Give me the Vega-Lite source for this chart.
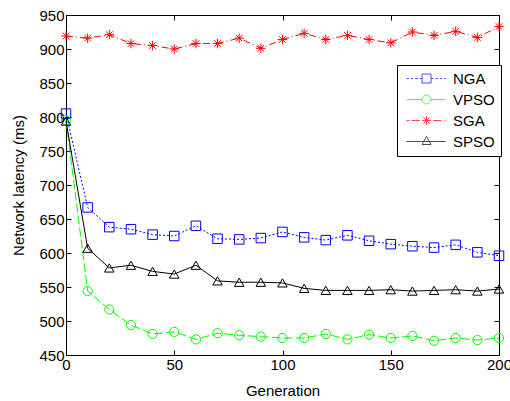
{
  "$schema": "https://vega.github.io/schema/vega-lite/v6.json",
  "width": 433,
  "height": 340,
  "autosize": "none",
  "padding": {"left": 66, "top": 15, "right": 11, "bottom": 46},
  "background": "white",
  "config": {
    "font": "Liberation Sans",
    "view": {"stroke": "black", "strokeWidth": 1},
    "axis": {
      "grid": false,
      "domainColor": "black",
      "tickColor": "black",
      "labelColor": "black",
      "titleColor": "black",
      "labelFont": "Liberation Sans",
      "titleFont": "Liberation Sans",
      "labelFontSize": 15,
      "titleFontSize": 15,
      "titleFontWeight": "normal",
      "tickSize": -5,
      "labelPadding": 7,
      "labelFlush": false,
      "labelOverlap": false
    },
    "legend": {
      "labelFont": "Liberation Sans",
      "labelFontSize": 15,
      "labelColor": "black"
    }
  },
  "data": {
    "values": [
      {"g": 0, "series": "NGA", "v": 805}, {"g": 10, "series": "NGA", "v": 667}, {"g": 20, "series": "NGA", "v": 638}, {"g": 30, "series": "NGA", "v": 635}, {"g": 40, "series": "NGA", "v": 627}, {"g": 50, "series": "NGA", "v": 625}, {"g": 60, "series": "NGA", "v": 640}, {"g": 70, "series": "NGA", "v": 621}, {"g": 80, "series": "NGA", "v": 620}, {"g": 90, "series": "NGA", "v": 622}, {"g": 100, "series": "NGA", "v": 631}, {"g": 110, "series": "NGA", "v": 623}, {"g": 120, "series": "NGA", "v": 619}, {"g": 130, "series": "NGA", "v": 626}, {"g": 140, "series": "NGA", "v": 618}, {"g": 150, "series": "NGA", "v": 613}, {"g": 160, "series": "NGA", "v": 610}, {"g": 170, "series": "NGA", "v": 608}, {"g": 180, "series": "NGA", "v": 612}, {"g": 190, "series": "NGA", "v": 601}, {"g": 200, "series": "NGA", "v": 596},
      {"g": 0, "series": "VPSO", "v": 795}, {"g": 10, "series": "VPSO", "v": 544}, {"g": 20, "series": "VPSO", "v": 517}, {"g": 30, "series": "VPSO", "v": 494}, {"g": 40, "series": "VPSO", "v": 481}, {"g": 50, "series": "VPSO", "v": 484}, {"g": 60, "series": "VPSO", "v": 473}, {"g": 70, "series": "VPSO", "v": 482}, {"g": 80, "series": "VPSO", "v": 479}, {"g": 90, "series": "VPSO", "v": 477}, {"g": 100, "series": "VPSO", "v": 475}, {"g": 110, "series": "VPSO", "v": 475}, {"g": 120, "series": "VPSO", "v": 481}, {"g": 130, "series": "VPSO", "v": 473}, {"g": 140, "series": "VPSO", "v": 480}, {"g": 150, "series": "VPSO", "v": 475}, {"g": 160, "series": "VPSO", "v": 478}, {"g": 170, "series": "VPSO", "v": 471}, {"g": 180, "series": "VPSO", "v": 475}, {"g": 190, "series": "VPSO", "v": 472}, {"g": 200, "series": "VPSO", "v": 475},
      {"g": 0, "series": "SGA", "v": 919}, {"g": 10, "series": "SGA", "v": 916}, {"g": 20, "series": "SGA", "v": 921}, {"g": 30, "series": "SGA", "v": 908}, {"g": 40, "series": "SGA", "v": 905}, {"g": 50, "series": "SGA", "v": 900}, {"g": 60, "series": "SGA", "v": 908}, {"g": 70, "series": "SGA", "v": 908}, {"g": 80, "series": "SGA", "v": 916}, {"g": 90, "series": "SGA", "v": 901}, {"g": 100, "series": "SGA", "v": 914}, {"g": 110, "series": "SGA", "v": 923}, {"g": 120, "series": "SGA", "v": 914}, {"g": 130, "series": "SGA", "v": 920}, {"g": 140, "series": "SGA", "v": 914}, {"g": 150, "series": "SGA", "v": 909}, {"g": 160, "series": "SGA", "v": 925}, {"g": 170, "series": "SGA", "v": 920}, {"g": 180, "series": "SGA", "v": 926}, {"g": 190, "series": "SGA", "v": 917}, {"g": 200, "series": "SGA", "v": 933},
      {"g": 0, "series": "SPSO", "v": 794}, {"g": 10, "series": "SPSO", "v": 607}, {"g": 20, "series": "SPSO", "v": 578}, {"g": 30, "series": "SPSO", "v": 582}, {"g": 40, "series": "SPSO", "v": 573}, {"g": 50, "series": "SPSO", "v": 569}, {"g": 60, "series": "SPSO", "v": 582}, {"g": 70, "series": "SPSO", "v": 559}, {"g": 80, "series": "SPSO", "v": 557}, {"g": 90, "series": "SPSO", "v": 557}, {"g": 100, "series": "SPSO", "v": 556}, {"g": 110, "series": "SPSO", "v": 548}, {"g": 120, "series": "SPSO", "v": 545}, {"g": 130, "series": "SPSO", "v": 545}, {"g": 140, "series": "SPSO", "v": 545}, {"g": 150, "series": "SPSO", "v": 546}, {"g": 160, "series": "SPSO", "v": 544}, {"g": 170, "series": "SPSO", "v": 545}, {"g": 180, "series": "SPSO", "v": 546}, {"g": 190, "series": "SPSO", "v": 544}, {"g": 200, "series": "SPSO", "v": 547}
    ]
  },
  "resolve": {"axis": {"x": "independent", "y": "independent"}},
  "layer": [
    {
      "transform": [{"filter": "datum.series === 'NGA'"}],
      "mark": {"type": "line", "color": "#0000ff", "strokeWidth": 1, "strokeDash": [2, 2],
        "point": {"shape": "square", "filled": false, "size": 90, "strokeWidth": 1, "color": "#0000ff"}},
      "encoding": {
        "x": {"field": "g", "type": "quantitative", "title": "Generation",
          "scale": {"domain": [0, 200], "nice": false, "zero": false},
          "axis": {"orient": "bottom", "values": [0, 50, 100, 150, 200], "titlePadding": 11}},
        "y": {"field": "v", "type": "quantitative", "title": "Network latency (ms)",
          "scale": {"domain": [450, 950], "nice": false, "zero": false},
          "axis": {"orient": "left", "values": [450, 500, 550, 600, 650, 700, 750, 800, 850, 900, 950], "titlePadding": 12}}
      }
    },
    {
      "transform": [{"filter": "datum.series === 'VPSO'"}],
      "mark": {"type": "line", "color": "#00ff00", "strokeWidth": 1, "strokeDash": [9, 3],
        "point": {"shape": "circle", "filled": false, "size": 85, "strokeWidth": 1, "color": "#00ff00"}},
      "encoding": {
        "x": {"field": "g", "type": "quantitative", "axis": null},
        "y": {"field": "v", "type": "quantitative", "axis": null}
      }
    },
    {
      "transform": [{"filter": "datum.series === 'SGA'"}],
      "mark": {"type": "line", "color": "#ff0000", "strokeWidth": 1, "strokeDash": [7, 3, 1, 3],
        "point": {"shape": "M-1,0H1M0,-1V1M-0.7,-0.7L0.7,0.7M-0.7,0.7L0.7,-0.7", "filled": false, "size": 90, "strokeWidth": 1, "color": "#ff0000"}},
      "encoding": {
        "x": {"field": "g", "type": "quantitative", "axis": null},
        "y": {"field": "v", "type": "quantitative", "axis": null}
      }
    },
    {
      "transform": [{"filter": "datum.series === 'SPSO'"}],
      "mark": {"type": "line", "color": "#000000", "strokeWidth": 1,
        "point": {"shape": "triangle-up", "filled": false, "size": 90, "strokeWidth": 1, "color": "#000000"}},
      "encoding": {
        "x": {"field": "g", "type": "quantitative", "axis": null},
        "y": {"field": "v", "type": "quantitative", "axis": null}
      }
    },
    {
      "transform": [{"filter": "false"}],
      "mark": {"type": "point", "filled": false, "size": 144, "strokeWidth": 1},
      "encoding": {
        "x": {"field": "g", "type": "quantitative",
          "axis": {"orient": "top", "values": [0, 50, 100, 150, 200], "labels": false, "domain": false, "title": null}},
        "y": {"field": "v", "type": "quantitative",
          "axis": {"orient": "right", "values": [450, 500, 550, 600, 650, 700, 750, 800, 850, 900, 950], "labels": false, "domain": false, "title": null}},
        "color": {"field": "series", "type": "nominal",
          "scale": {"domain": ["NGA", "VPSO", "SGA", "SPSO"], "range": ["#0000ff", "#00ff00", "#ff0000", "#000000"]},
          "legend": {"title": null, "orient": "none", "legendX": 331, "legendY": 50,
            "strokeColor": "black", "fillColor": "white", "padding": 6, "cornerRadius": 0,
            "symbolSize": 144, "symbolStrokeWidth": 1, "symbolOffset": 16, "labelOffset": 19, "rowPadding": 5}},
        "shape": {"field": "series", "type": "nominal",
          "scale": {"domain": ["NGA", "VPSO", "SGA", "SPSO"], "range": [
            "M-3.33,0h0.4M-2.6,0h0.4M-1.87,0h0.4M-1.14,0h0.39M0.75,0h0.4M1.48,0h0.4M2.21,0h0.4M2.94,0h0.23M-0.75,-0.75h1.5v1.5h-1.5z",
            "M-3.33,0H-0.75M0.75,0H3.17M0.75,0A0.75,0.75,0,1,1,-0.75,0A0.75,0.75,0,1,1,0.75,0Z",
            "M-3.33,0h0.5M-2.5,0h1.4M1.1,0h1.4M3,0h0.17M-0.75,0H0.75M0,-0.75V0.75M-0.53,-0.53L0.53,0.53M-0.53,0.53L0.53,-0.53",
            "M-3.33,0H3.17M0,-0.85L0.75,0.5H-0.75Z"
          ]},
          "legend": {"title": null, "orient": "none", "legendX": 331, "legendY": 50,
            "strokeColor": "black", "fillColor": "white", "padding": 6, "cornerRadius": 0,
            "symbolSize": 144, "symbolStrokeWidth": 1, "symbolOffset": 16, "labelOffset": 19, "rowPadding": 5}}
      }
    }
  ]
}
